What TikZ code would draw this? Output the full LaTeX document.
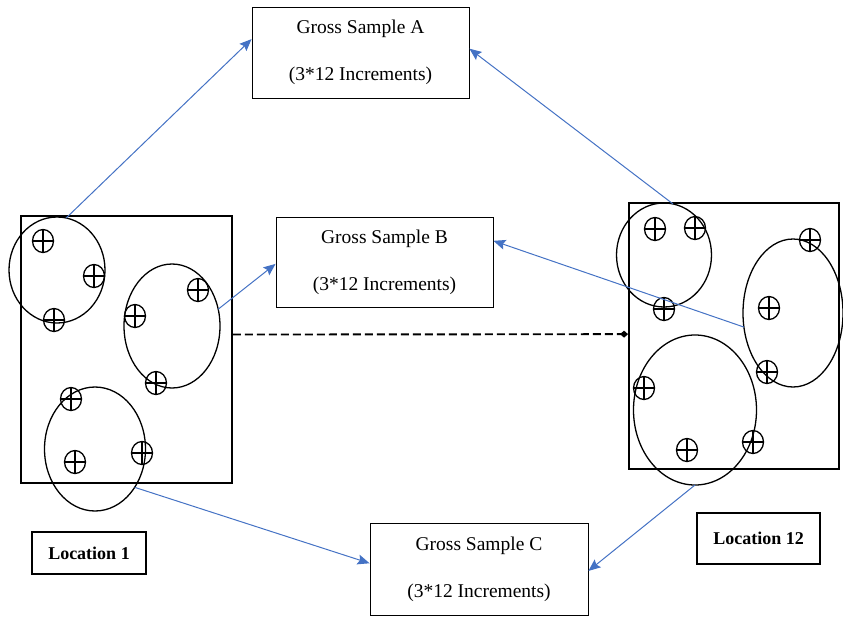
\documentclass[tikz,border=0pt]{standalone}
\usepackage{fontspec}
\setmainfont{Liberation Serif}
\usetikzlibrary{shapes.geometric,arrows.meta}
\definecolor{arrowblue}{HTML}{4472C4}
\begin{document}
\begin{tikzpicture}[x=1pt,y=-1pt,
  sample/.style={draw,line width=0.9pt,minimum width=217pt,minimum height=91pt,inner sep=0pt,align=center,font=\fontsize{19.5}{47}\selectfont},
  loc/.style={draw,line width=1.1pt,inner sep=0pt,font=\bfseries\fontsize{18}{22}\selectfont},
  field/.style={draw,line width=1.9pt,inner sep=0pt},
  grp/.style={draw,ellipse,line width=1.3pt,inner sep=0pt,outer sep=0pt},
  mk/.style={draw,ellipse,line width=1.3pt,minimum width=21pt,minimum height=23pt,inner sep=0pt,outer sep=0pt,
    path picture={\draw[line width=1.4pt] (path picture bounding box.north) -- (path picture bounding box.south)
      (path picture bounding box.west) -- (path picture bounding box.east);}},
  link/.style={draw=arrowblue,line width=1pt,-{Stealth[length=12pt,width=10pt,inset=2pt]}},
  tie/.style={draw,line width=1.9pt,dash pattern=on 8pt off 4pt,-{Diamond[length=8pt,width=7pt]}}
]
\useasboundingbox (0,0) rectangle (843,616);

% sampling fields
\node[field,minimum width=211pt,minimum height=267pt] (L1) at (126.5,349.5) {};
\node[field,minimum width=210pt,minimum height=266pt] (R) at (734,336) {};

% groups of increments
\node[grp,minimum width=96pt,minimum height=106pt] (e1) at (57,270) {};
\node[grp,minimum width=96pt,minimum height=124pt] (e2) at (172,326) {};
\node[grp,minimum width=101pt,minimum height=124pt] (e3) at (95,449) {};
\node[grp,minimum width=95pt,minimum height=104pt] (e4) at (664,255) {};
\node[grp,minimum width=100pt,minimum height=148pt] (e5) at (793,313) {};
\node[grp,minimum width=123pt,minimum height=150pt] (e6) at (695,410) {};

% increments
\node[mk] (m1) at (43,241) {};
\node[mk] (m2) at (94,276) {};
\node[mk] (m3) at (54,320) {};
\node[mk] (m4) at (198,290) {};
\node[mk] (m5) at (135,316) {};
\node[mk] (m6) at (156,383) {};
\node[mk] (m7) at (71,399) {};
\node[mk] (m8) at (75,462) {};
\node[mk] (m9) at (142,453) {};
\node[mk] (n1) at (655,229) {};
\node[mk] (n2) at (695,228) {};
\node[mk] (n3) at (664,309) {};
\node[mk] (n4) at (810,240) {};
\node[mk] (n5) at (769,308) {};
\node[mk] (n6) at (767,372) {};
\node[mk] (n7) at (644,388) {};
\node[mk] (n8) at (687,450) {};
\node[mk] (n9) at (753,442) {};

% gross samples
\node[sample] (ga) at (360.5,52.5) {Gross Sample A\\(3*12 Increments)};
\node[sample,minimum height=90pt] (gb) at (384.5,262) {Gross Sample B\\(3*12 Increments)};
\node[sample,minimum width=218pt,minimum height=92pt] (gc) at (479,569) {Gross Sample C\\(3*12 Increments)};

% location labels
\node[loc,minimum width=114pt,minimum height=42pt] (l1) at (89,553) {Location 1};
\node[loc,minimum width=123pt,minimum height=51pt] (l12) at (758.5,538.5) {Location 12};

% connectors
\draw[tie] (L1.8.9) -- (R.179.5);
\draw[link] (e1.80) -- (ga.173.5);
\draw[link] (e4.80) -- (ga.2.4);
\draw[link] (e2.20) -- (gb.181);
\draw[link] (e5.196) -- (gb.11.2);
\draw[link] (e3.316) -- (gc.177);
\draw[link] (e6.south) -- (gc.-1.6);
\end{tikzpicture}
\end{document}
